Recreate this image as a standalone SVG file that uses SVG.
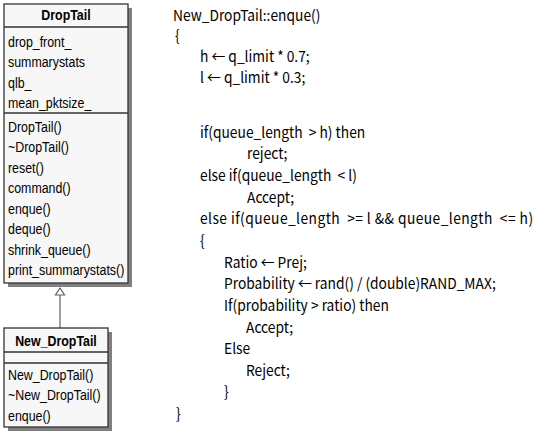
<svg xmlns="http://www.w3.org/2000/svg" width="536" height="432" viewBox="0 0 536 432">
<style>
.shadow{fill:#808080;stroke:none}
.box{fill:#f7f7f7;stroke:#333;stroke-width:1.3}
.sep{stroke:#333;stroke-width:1.3}
.t{font-family:"Liberation Sans",Arial,sans-serif;font-size:15.5px;fill:#000}
.tb{font-family:"Liberation Sans",Arial,sans-serif;font-size:15.5px;font-weight:bold;fill:#000;text-anchor:middle}
.code{font-family:"Noto Sans CJK KR","Noto Sans",sans-serif;font-size:15px;fill:#000;white-space:pre}
.conn{stroke:#606060;stroke-width:1.2;fill:none}
.tri{fill:#fff;stroke:#606060;stroke-width:1.2}
</style>
<rect width="536" height="432" fill="#fff"/>
<g id="DropTail">
<rect class="shadow" x="8" y="8" width="124" height="279"/>
<rect class="box" x="4" y="4" width="124" height="279"/>
<line class="sep" x1="4" y1="27" x2="128" y2="27"/>
<line class="sep" x1="4" y1="113" x2="128" y2="113"/>
<g transform="scale(0.8,1)">
<text class="tb" x="82.5" y="20.5">DropTail</text>
<text class="t" x="10" y="47">drop_front_</text>
<text class="t" x="10" y="67.5">summarystats</text>
<text class="t" x="10" y="88">qlb_</text>
<text class="t" x="10" y="108">mean_pktsize_</text>
<text class="t" x="10" y="132">DropTail()</text>
<text class="t" x="10" y="152.5">~DropTail()</text>
<text class="t" x="10" y="173">reset()</text>
<text class="t" x="10" y="193.5">command()</text>
<text class="t" x="10" y="214">enque()</text>
<text class="t" x="10" y="234.5">deque()</text>
<text class="t" x="10" y="255">shrink_queue()</text>
<text class="t" x="10" y="275.5">print_summarystats()</text>
</g>
</g>
<g id="connectors">
<line class="conn" x1="60" y1="295" x2="60" y2="328"/>
<polygon class="tri" points="60,288 64.5,295 55.5,295"/>
</g>
<g id="New_DropTail">
<rect class="shadow" x="8" y="332" width="104" height="99"/>
<rect class="box" x="4" y="328" width="104" height="99"/>
<line class="sep" x1="4" y1="352" x2="108" y2="352"/>
<line class="sep" x1="4" y1="363" x2="108" y2="363"/>
<g transform="scale(0.8,1)">
<text class="tb" x="70" y="346">New_DropTail</text>
<text class="t" x="10" y="380">New_DropTail()</text>
<text class="t" x="10" y="400.5">~New_DropTail()</text>
<text class="t" x="10" y="421">enque()</text>
</g>
</g>
<g id="code" transform="scale(0.92,1)">
<text class="code" x="188" y="21">New_DropTail::enque()</text>
<text class="code" x="190.2" y="41">{</text>
<text class="code" x="217.4" y="62">h ← q_limit * 0.7;</text>
<text class="code" x="217.4" y="83">l ← q_limit * 0.3;</text>
<text class="code" x="217.4" y="138">if(queue_length  &gt; h) then</text>
<text class="code" x="268.5" y="159.5">reject;</text>
<text class="code" x="217.4" y="181">else if(queue_length  &lt; l)</text>
<text class="code" x="268.5" y="203">Accept;</text>
<text class="code" x="217.4" y="224.5" textLength="362" lengthAdjust="spacing">else if(queue_length  &gt;= l &amp;&amp; queue_length  &lt;= h)</text>
<text class="code" x="217.4" y="246">{</text>
<text class="code" x="243.5" y="268">Ratio ← Prej;</text>
<text class="code" x="243.5" y="289.5">Probability ← rand() / (double)RAND_MAX;</text>
<text class="code" x="243.5" y="311">If(probability &gt; ratio) then</text>
<text class="code" x="267.4" y="333">Accept;</text>
<text class="code" x="243.5" y="354.5">Else</text>
<text class="code" x="267.4" y="376">Reject;</text>
<text class="code" x="243.5" y="397.5">}</text>
<text class="code" x="191.3" y="419">}</text>
</g>
</svg>
